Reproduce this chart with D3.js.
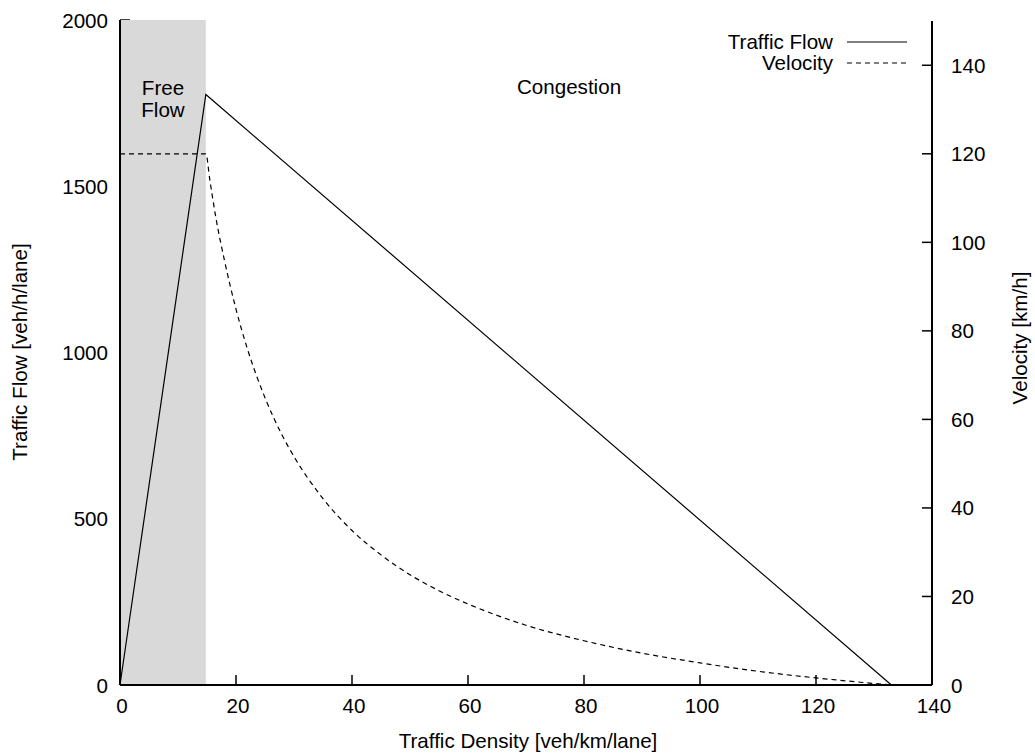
<!DOCTYPE html>
<html>
<head>
<meta charset="utf-8">
<script src="https://cdn.jsdelivr.net/npm/d3@7"></script>
<style>
  body { margin: 0; background: #fff; }
  svg { display: block; font-family: "Liberation Sans", Arial, Helvetica, sans-serif; }
</style>
</head>
<body>
<svg id="chart" width="1035" height="753"></svg>
<script>
// ---- data ----
const xTicks = [0, 20, 40, 60, 80, 100, 120, 140];
const flowTicks = [0, 500, 1000, 1500, 2000];
const velTicks = [0, 20, 40, 60, 80, 100, 120, 140];

const freeFlowRegion = [0, 14.8];          // density range shaded grey

const flowDensity = [0, 14.8, 133];
const flowValues  = [0, 1776, 0];

const velDensity = [0, 14.8, 15.5, 16.5, 18, 20, 22, 25, 28, 30, 35, 40, 45, 50, 55, 60, 70, 80, 90, 100, 110, 120, 130, 133];
const velValues  = [120, 120, 114, 105.8, 96.0, 84.9, 75.8, 64.9, 56.3, 51.6, 42.1, 34.9, 29.4, 24.9, 21.3, 18.3, 13.5, 10.0, 7.2, 5.0, 3.1, 1.6, 0.35, 0];

const labels = {
  x: "Traffic Density [veh/km/lane]",
  yLeft: "Traffic Flow [veh/h/lane]",
  yRight: "Velocity [km/h]",
  free: ["Free", "Flow"],
  congestion: "Congestion",
  legend: ["Traffic Flow", "Velocity"]
};

// ---- layout ----
const L = 120, R = 932, T = 20, B = 685;
const FS = 20.6;
const svg = d3.select("#chart");

const x = d3.scaleLinear().domain([0, 140]).range([L, R]);
const yF = d3.scaleLinear().domain([0, 2000]).range([B, T]);
const yV = d3.scaleLinear().domain([0, 150]).range([B, T + 1]);

// left ticks (drawn under the grey region)
const tickLen = 10;
svg.append("g").selectAll("line").data(flowTicks).join("line")
  .attr("x1", L).attr("x2", L + tickLen)
  .attr("y1", d => yF(d)).attr("y2", d => yF(d))
  .attr("stroke", "#000").attr("stroke-width", 1.5);

// grey free-flow region
svg.append("rect")
  .attr("x", x(freeFlowRegion[0]))
  .attr("y", yF(2000))
  .attr("width", x(freeFlowRegion[1]) - x(freeFlowRegion[0]))
  .attr("height", yF(0) - yF(2000))
  .attr("fill", "#d9d9d9");

// bottom ticks (inward, up)
svg.append("g").selectAll("line").data(xTicks.filter(d => d > 0 && d < 140)).join("line")
  .attr("x1", d => x(d)).attr("x2", d => x(d))
  .attr("y1", B).attr("y2", B - tickLen)
  .attr("stroke", "#000").attr("stroke-width", 1.5);

// right ticks (inward, left)
svg.append("g").selectAll("line").data(velTicks.filter(d => d > 0)).join("line")
  .attr("x1", R).attr("x2", R - tickLen)
  .attr("y1", d => yV(d)).attr("y2", d => yV(d))
  .attr("stroke", "#000").attr("stroke-width", 1.5);

// axis lines
svg.append("line").attr("x1", L).attr("x2", L).attr("y1", yF(2000)).attr("y2", B)
  .attr("stroke", "#000").attr("stroke-width", 2);
svg.append("line").attr("x1", L).attr("x2", R).attr("y1", B).attr("y2", B)
  .attr("stroke", "#000").attr("stroke-width", 2);
svg.append("line").attr("x1", R).attr("x2", R).attr("y1", yV(150)).attr("y2", B)
  .attr("stroke", "#000").attr("stroke-width", 2);

// tick labels
svg.append("g").selectAll("text").data(xTicks).join("text")
  .attr("x", d => x(d) + 2).attr("y", 713)
  .attr("text-anchor", "middle").attr("font-size", FS).text(d => d);
svg.append("g").selectAll("text").data(flowTicks).join("text")
  .attr("x", 108).attr("y", d => yF(d) + 7.5)
  .attr("text-anchor", "end").attr("font-size", FS).text(d => d);
svg.append("g").selectAll("text").data(velTicks).join("text")
  .attr("x", 951).attr("y", d => yV(d) + 7.5)
  .attr("text-anchor", "start").attr("font-size", FS).text(d => d);

// axis titles
svg.append("text").attr("x", (L + R) / 2 + 2).attr("y", 748)
  .attr("text-anchor", "middle").attr("font-size", FS).text(labels.x);
svg.append("text").attr("transform", "translate(27,352) rotate(-90)")
  .attr("text-anchor", "middle").attr("font-size", FS).text(labels.yLeft);
svg.append("text").attr("transform", "translate(1027,338) rotate(-90)")
  .attr("text-anchor", "middle").attr("font-size", FS).text(labels.yRight);

// region labels
svg.append("text").attr("x", 163).attr("y", 95).attr("text-anchor", "middle")
  .attr("font-size", FS).text(labels.free[0]);
svg.append("text").attr("x", 163).attr("y", 116.5).attr("text-anchor", "middle")
  .attr("font-size", FS).text(labels.free[1]);
svg.append("text").attr("x", 569).attr("y", 94).attr("text-anchor", "middle")
  .attr("font-size", FS).text(labels.congestion);

// lines
const flowLine = d3.line().x(d => x(d[0])).y(d => yF(d[1]));
svg.append("path")
  .datum(flowDensity.map((k, i) => [k, flowValues[i]]))
  .attr("d", flowLine).attr("fill", "none").attr("stroke", "#000").attr("stroke-width", 1.2);

const velLine = d3.line().x(d => x(d[0])).y(d => yV(d[1])).curve(d3.curveMonotoneX);
svg.append("path")
  .datum(velDensity.map((k, i) => [k, velValues[i]]))
  .attr("d", velLine).attr("fill", "none").attr("stroke", "#000").attr("stroke-width", 1.2)
  .attr("stroke-dasharray", "5,4");

// legend
const legendRows = [
  { text: labels.legend[0], y: 42, dash: null },
  { text: labels.legend[1], y: 63, dash: "5,4" }
];
const lg = svg.append("g");
legendRows.forEach(r => {
  lg.append("text").attr("x", 833).attr("y", r.y + 6.5).attr("text-anchor", "end")
    .attr("font-size", FS).text(r.text);
  lg.append("line").attr("x1", 847).attr("x2", 907).attr("y1", r.y).attr("y2", r.y)
    .attr("stroke", "#000").attr("stroke-width", 1.2)
    .attr("stroke-dasharray", r.dash);
});
</script>
</body>
</html>
